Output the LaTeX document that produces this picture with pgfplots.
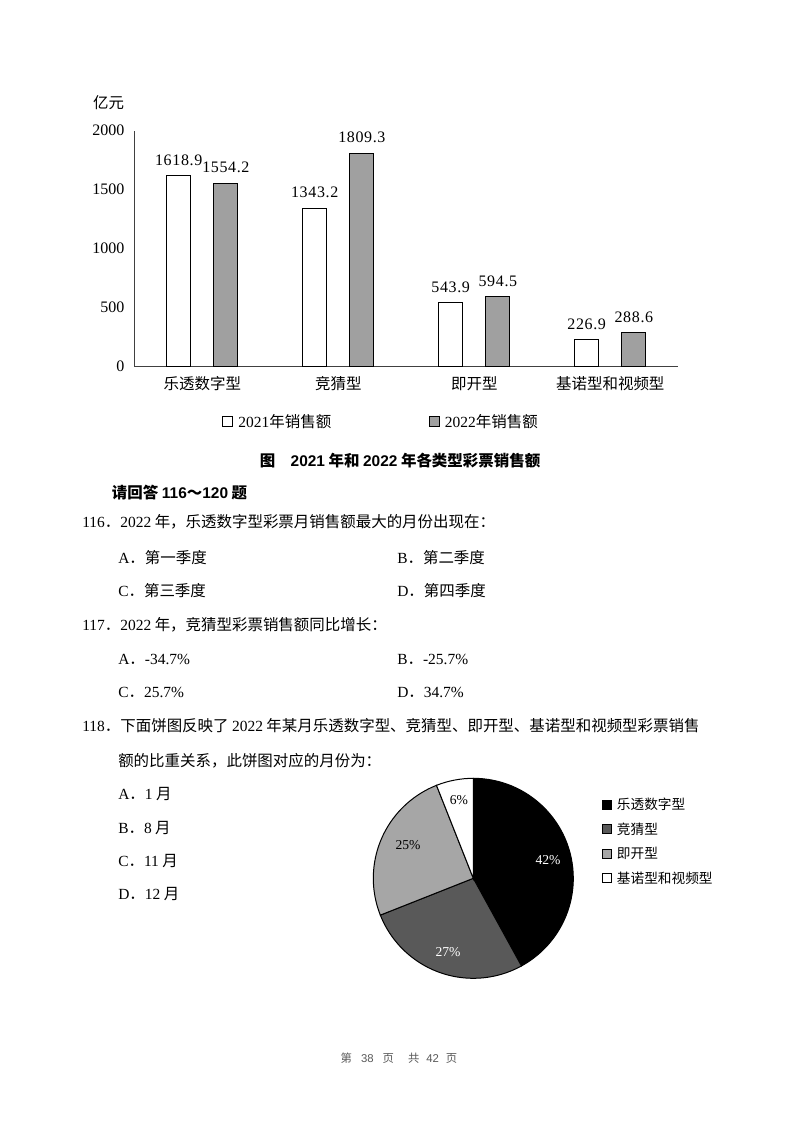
\documentclass[border=0pt]{standalone}
\usepackage{fontspec}
\setmainfont{Noto Sans CJK SC}
\newfontfamily\lat{Liberation Serif}
\newfontfamily\latw[LetterSpace=4]{Liberation Serif}
\newfontfamily\las{Liberation Sans}
\usepackage{pgfplots}
\usepackage{pgfplotstable}
\pgfplotsset{compat=1.18}
\definecolor{bargray}{RGB}{160,160,160}
\definecolor{piedark}{RGB}{89,89,89}
\definecolor{pielight}{RGB}{166,166,166}
\newcommand{\body}{\fontsize{11.6}{14}\selectfont}
\newcommand{\Ln}[3]{\node[anchor=base west, inner sep=0pt, font=\body] at (#1,{-(#2)-6}) {#3};}
\pgfplotsset{
  boxlegend/.style={legend image code/.code={\draw[##1, line width=0.75pt] (0pt,-3.7pt) rectangle (7.5pt,3.7pt);}},
  pielegend/.style={legend image code/.code={\draw[##1, line width=0.75pt] (0pt,-3.4pt) rectangle (6.8pt,3.4pt);}},
}
\pgfplotstableread{
idx y2021 y2022
0 1618.9 1554.2
1 1343.2 1809.3
2 543.9 594.5
3 226.9 288.6
}\salestable
\pgfplotstableread{
share
42
27
25
6
}\pietable
\begin{document}
\begin{tikzpicture}[x=0.75pt,y=0.75pt]
\pgfplotstablegetelem{0}{share}\of\pietable \pgfmathsetmacro\aA{90-3.6*\pgfplotsretval}
\pgfplotstablegetelem{1}{share}\of\pietable \pgfmathsetmacro\aB{\aA-3.6*\pgfplotsretval}
\pgfplotstablegetelem{2}{share}\of\pietable \pgfmathsetmacro\aC{\aB-3.6*\pgfplotsretval}
\pgfplotstablegetelem{3}{share}\of\pietable \pgfmathsetmacro\aD{\aC-3.6*\pgfplotsretval}
\useasboundingbox[fill=white] (0,0) rectangle (800,-1124);
\node[font=\body] at (108.5,-103) {亿元};
\begin{axis}[
  at={(151.725pt,-275.025pt)}, anchor=origin,
  scale only axis, width=408pt, height=177pt,
  xmin=-0.5, xmax=3.5, ymin=0, ymax=2000,
  axis x line=bottom, axis y line=left,
  axis line style={-, draw=black!75, line width=0.7pt},
  xtick={0,1,2,3}, xticklabels={乐透数字型,竞猜型,即开型,基诺型和视频型},
  ytick={0,500,1000,1500,2000},
  major tick length=0pt,
  /pgf/number format/assume math mode=true,
  /pgf/number format/1000 sep={},
  y tick label style={font=\lat\fontsize{12}{12}\selectfont, anchor=east, xshift=-4pt},
  x tick label style={font=\body, anchor=center, yshift=-13pt},
  clip=false,
  legend columns=2,
  legend style={at={(0.454,-0.233)}, anchor=center, draw=none, fill=none, font=\body,
    /tikz/every even column/.append style={column sep=71pt}},
  nodes near coords, point meta=explicit symbolic,
  every node near coord/.append style={font=\latw\fontsize{12}{12}\selectfont, yshift=4pt},
]
\addplot[ybar, bar width=18pt, bar shift=-17.7pt, fill=white, draw=black, line width=0.75pt, boxlegend,
  every node near coord/.append style={xshift=-17.7pt}]
  table[x=idx, y=y2021, meta=y2021] {\salestable};
\addlegendentry{\hspace{2pt}{\lat 2021}年销售额}
\addplot[ybar, bar width=18pt, bar shift=17.7pt, fill=bargray, draw=black, line width=0.75pt, boxlegend,
  every node near coord/.append style={xshift=17.7pt}]
  table[x=idx, y=y2022, meta=y2022] {\salestable};
\addlegendentry{\hspace{2pt}{\lat 2022}年销售额}
\end{axis}
\node[anchor=base, font=\body\bfseries] at (400,-466) {图\hspace{1em}{\las\bfseries 2021} 年和 {\las\bfseries 2022} 年各类型彩票销售额};
\Ln{111.7}{492}{\bfseries 请回答 {\las\bfseries 116}～{\las\bfseries 120} 题}
\Ln{82}{521}{{\lat 116}．{\lat 2022} 年，乐透数字型彩票月销售额最大的月份出现在：}
\Ln{118}{557}{{\lat A}．第一季度}
\Ln{397}{557}{{\lat B}．第二季度}
\Ln{118}{590}{{\lat C}．第三季度}
\Ln{397}{590}{{\lat D}．第四季度}
\Ln{82}{624}{{\lat 117}．{\lat 2022} 年，竞猜型彩票销售额同比增长：}
\Ln{118}{658}{{\lat A}．{\lat -34.7\%}}
\Ln{397}{658}{{\lat B}．{\lat -25.7\%}}
\Ln{118}{691}{{\lat C}．{\lat 25.7\%}}
\Ln{397}{691}{{\lat D}．{\lat 34.7\%}}
\Ln{82}{725}{{\lat 118}．下面饼图反映了 {\lat 2022} 年某月乐透数字型、竞猜型、即开型、基诺型和视频型彩票销售}
\Ln{118}{760}{额的比重关系，此饼图对应的月份为：}
\Ln{118}{793}{{\lat A}．{\lat 1} 月}
\Ln{118}{827}{{\lat B}．{\lat 8} 月}
\Ln{118}{860}{{\lat C}．{\lat 11} 月}
\Ln{118}{893}{{\lat D}．{\lat 12} 月}
\begin{axis}[
  at={(354.975pt,-658.725pt)}, anchor=origin, scale only axis, width=150pt, height=150pt,
  xmin=-1, xmax=1, ymin=-1, ymax=1, hide axis, clip=false,
  legend style={at={(1.12,0.93)}, anchor=north west, draw=none, fill=none,
    font=\fontsize{10.25}{12}\selectfont, row sep=4.3pt, legend cell align=left},
]
\addlegendimage{pielegend, fill=black, draw=black}
\addlegendentry{\hspace{2pt}乐透数字型}
\addlegendimage{pielegend, fill=piedark, draw=black}
\addlegendentry{\hspace{2pt}竞猜型}
\addlegendimage{pielegend, fill=pielight, draw=black}
\addlegendentry{\hspace{2pt}即开型}
\addlegendimage{pielegend, fill=white, draw=black}
\addlegendentry{\hspace{2pt}基诺型和视频型}
\filldraw[fill=black, draw=black, line width=0.75pt] (axis cs:0,0) -- ++(90:75pt) arc[start angle=90, end angle=\aA, radius=75pt] -- cycle;
\filldraw[fill=piedark, draw=black, line width=0.75pt] (axis cs:0,0) -- ++(\aA:75pt) arc[start angle=\aA, end angle=\aB, radius=75pt] -- cycle;
\filldraw[fill=pielight, draw=black, line width=0.75pt] (axis cs:0,0) -- ++(\aB:75pt) arc[start angle=\aB, end angle=\aC, radius=75pt] -- cycle;
\filldraw[fill=white, draw=black, line width=0.75pt] (axis cs:0,0) -- ++(\aC:75pt) arc[start angle=\aC, end angle=\aD, radius=75pt] -- cycle;
\node[text=white, font=\lat\fontsize{10.2}{12}\selectfont] at (axis cs:0.747,0.183) {42\%};
\node[text=white, font=\lat\fontsize{10.2}{12}\selectfont] at (axis cs:-0.253,-0.737) {27\%};
\node[text=black, font=\lat\fontsize{10.2}{12}\selectfont] at (axis cs:-0.653,0.333) {25\%};
\node[text=black, font=\lat\fontsize{10.2}{12}\selectfont] at (axis cs:-0.143,0.783) {6\%};
\end{axis}
\node[anchor=base, font=\fontsize{8.5}{10}\selectfont, text=black!65] at (399,-1062) {第\hspace{6.75pt}{\las 38}\hspace{6.75pt}页\hspace{10.5pt}共\hspace{5.25pt}{\las 42}\hspace{5.25pt}页};
\end{tikzpicture}
\end{document}
